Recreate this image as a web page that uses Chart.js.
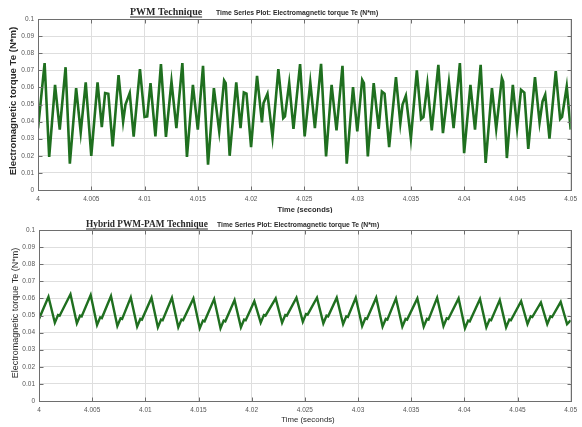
<!DOCTYPE html>
<html>
<head>
<meta charset="utf-8">
<script src="https://cdn.jsdelivr.net/npm/chart.js@4.4.1/dist/chart.umd.min.js"></script>
<style>
    html, body { margin: 0; padding: 0; background: #fff; }
    .wrap { position: relative; width: 582px; height: 427px; }
    .panel { position: absolute; left: 0; width: 582px; }
</style>
</head>
<body>
<div class="wrap">
    <div class="panel" style="top:0;height:213px"><canvas id="pwm-chart"></canvas></div>
    <div class="panel" style="top:213px;height:214px"><canvas id="hybrid-chart"></canvas></div>
</div>
<script>
// axis ticks (shared by both plots)
const timeTicks = [4, 4.005, 4.01, 4.015, 4.02, 4.025, 4.03, 4.035, 4.04, 4.045, 4.05];
const timeTickLabels = ['4', '4.005', '4.01', '4.015', '4.02', '4.025', '4.03', '4.035', '4.04', '4.045', '4.05'];
const torqueTicks = [0, 0.01, 0.02, 0.03, 0.04, 0.05, 0.06, 0.07, 0.08, 0.09, 0.1];
const torqueTickLabels = ['0', '0.01', '0.02', '0.03', '0.04', '0.05', '0.06', '0.07', '0.08', '0.09', '0.1'];

// PWM technique - Te (N*m)
const pwmTime = [
    4.00000, 4.00062, 4.00105, 4.00160, 4.00204, 4.00259, 4.00299, 4.00358, 4.00401, 4.00448,
    4.00500, 4.00559, 4.00599, 4.00630, 4.00660, 4.00701, 4.00756, 4.00799, 4.00821, 4.00861,
    4.00898, 4.00957, 4.01000, 4.01025, 4.01056, 4.01102, 4.01154, 4.01201, 4.01253, 4.01299,
    4.01355, 4.01398, 4.01454, 4.01500, 4.01549, 4.01596, 4.01651,
    4.01701, 4.01747, 4.01762, 4.01799, 4.01861, 4.01901, 4.01932, 4.01957, 4.02000, 4.02056,
    4.02102, 4.02117, 4.02154, 4.02201, 4.02256, 4.02302, 4.02318, 4.02358, 4.02398, 4.02460,
    4.02503, 4.02556, 4.02599, 4.02657, 4.02704, 4.02756, 4.02802, 4.02858, 4.02898, 4.02957,
    4.02997, 4.03043, 4.03059, 4.03096, 4.03151, 4.03198, 4.03228, 4.03253, 4.03296,
    4.03360, 4.03401, 4.03422, 4.03453, 4.03500, 4.03556, 4.03596, 4.03618, 4.03655, 4.03696,
    4.03758, 4.03801, 4.03857, 4.03901, 4.03960, 4.04000, 4.04059, 4.04102, 4.04155, 4.04202,
    4.04261, 4.04301, 4.04354, 4.04366, 4.04401, 4.04457, 4.04497, 4.04534, 4.04565, 4.04602,
    4.04665, 4.04708, 4.04736, 4.04761, 4.04801, 4.04860, 4.04901, 4.04919, 4.04963, 4.05000
];
const pwmTorque = [
    0.0360, 0.0742, 0.0193, 0.0615, 0.0353, 0.0718, 0.0154, 0.0596, 0.0337, 0.0630,
    0.0200, 0.0630, 0.0368, 0.0567, 0.0563, 0.0255, 0.0672, 0.0400, 0.0500, 0.0567,
    0.0312, 0.0707, 0.0427, 0.0430, 0.0625, 0.0313, 0.0736, 0.0310, 0.0634, 0.0362,
    0.0742, 0.0193, 0.0615, 0.0353, 0.0726, 0.0148, 0.0596,
    0.0343, 0.0640, 0.0625, 0.0200, 0.0629, 0.0362, 0.0570, 0.0563, 0.0251, 0.0668,
    0.0395, 0.0508, 0.0563, 0.0310, 0.0707, 0.0420, 0.0430, 0.0625, 0.0357, 0.0736,
    0.0313, 0.0629, 0.0362, 0.0738, 0.0197, 0.0615, 0.0349, 0.0726, 0.0154, 0.0601,
    0.0343, 0.0644, 0.0625, 0.0197, 0.0625, 0.0357, 0.0576, 0.0563, 0.0251,
    0.0660, 0.0390, 0.0499, 0.0551, 0.0300, 0.0700, 0.0415, 0.0427, 0.0620, 0.0349,
    0.0732, 0.0333, 0.0629, 0.0362, 0.0742, 0.0216, 0.0615, 0.0353, 0.0732, 0.0158,
    0.0596, 0.0357, 0.0654, 0.0635, 0.0187, 0.0615, 0.0362, 0.0586, 0.0570, 0.0240,
    0.0660, 0.0395, 0.0518, 0.0557, 0.0300, 0.0695, 0.0415, 0.0427, 0.0605, 0.0353
];

// Hybrid PWM-PAM technique - Te (N*m) (peak, trough, bump, notch per cycle)
const hybridTime = [
    4.00000,
    4.00089, 4.00149, 4.00179, 4.00194,
    4.00296, 4.00356, 4.00386, 4.00401,
    4.00486, 4.00546, 4.00576, 4.00591,
    4.00677, 4.00737, 4.00767, 4.00782,
    4.00863, 4.00923, 4.00953, 4.00968,
    4.01058, 4.01118, 4.01148, 4.01163,
    4.01250, 4.01310, 4.01340, 4.01355,
    4.01452, 4.01512, 4.01542, 4.01557,
    4.01647, 4.01707, 4.01737, 4.01752,
    4.01839, 4.01899, 4.01929, 4.01944,
    4.02025, 4.02085, 4.02115, 4.02130,
    4.02226, 4.02286, 4.02316, 4.02331,
    4.02421, 4.02481, 4.02511, 4.02526,
    4.02614, 4.02674, 4.02704, 4.02719,
    4.02800, 4.02860, 4.02890, 4.02905,
    4.02979, 4.03039, 4.03069, 4.03084,
    4.03171, 4.03231, 4.03261, 4.03276,
    4.03357, 4.03417, 4.03447, 4.03462,
    4.03558, 4.03618, 4.03648, 4.03663,
    4.03744, 4.03804, 4.03834, 4.03849,
    4.03946, 4.04006, 4.04036, 4.04051,
    4.04147, 4.04207, 4.04237, 4.04252,
    4.04333, 4.04393, 4.04423, 4.04438,
    4.04534, 4.04594, 4.04624, 4.04639,
    4.04720, 4.04780, 4.04810, 4.04825,
    4.04906, 4.04966, 4.05000
];
const hybridTorque = [
    0.0480,
    0.0610, 0.0458, 0.0503, 0.0499,
    0.0624, 0.0454, 0.0499, 0.0495,
    0.0620, 0.0444, 0.0489, 0.0485,
    0.0614, 0.0439, 0.0484, 0.0480,
    0.0606, 0.0435, 0.0480, 0.0476,
    0.0604, 0.0431, 0.0476, 0.0472,
    0.0604, 0.0431, 0.0476, 0.0472,
    0.0600, 0.0425, 0.0470, 0.0466,
    0.0596, 0.0425, 0.0470, 0.0466,
    0.0590, 0.0431, 0.0476, 0.0472,
    0.0584, 0.0458, 0.0503, 0.0499,
    0.0600, 0.0458, 0.0503, 0.0499,
    0.0604, 0.0464, 0.0509, 0.0505,
    0.0604, 0.0454, 0.0499, 0.0495,
    0.0604, 0.0450, 0.0495, 0.0491,
    0.0604, 0.0439, 0.0484, 0.0480,
    0.0604, 0.0435, 0.0480, 0.0476,
    0.0600, 0.0435, 0.0480, 0.0476,
    0.0600, 0.0435, 0.0480, 0.0476,
    0.0604, 0.0439, 0.0484, 0.0480,
    0.0600, 0.0425, 0.0470, 0.0466,
    0.0596, 0.0431, 0.0476, 0.0472,
    0.0590, 0.0431, 0.0476, 0.0472,
    0.0584, 0.0450, 0.0495, 0.0491,
    0.0576, 0.0450, 0.0495, 0.0491,
    0.0580, 0.0450, 0.0472
];

const yTitle = 'Electromagnetic torque Te (N*m)';
const plotTitle = 'Time Series Plot: Electromagnetic torque Te (N*m)';

// frame, inward ticks and the texts MATLAB puts around the axes
const decor = {
    id: 'decor',
    afterDraw(chart, args, o) {
        const {ctx, chartArea: a} = chart;
        const xs = chart.scales.x, ys = chart.scales.y;
        ctx.save();
        ctx.strokeStyle = '#6e6e6e';
        ctx.lineWidth = 1;
        const l = Math.round(a.left) + 0.5, t = Math.round(a.top) + 0.5;
        const r = Math.round(a.right) + 0.5, b = Math.round(a.bottom) + 0.5;
        ctx.strokeRect(l, t, r - l, b - t);
        ctx.beginPath();
        timeTicks.forEach(v => {
            const px = Math.round(xs.getPixelForValue(v)) + 0.5;
            ctx.moveTo(px, b); ctx.lineTo(px, b - 4);
            ctx.moveTo(px, t); ctx.lineTo(px, t + 4);
        });
        torqueTicks.forEach(v => {
            const py = Math.round(ys.getPixelForValue(v)) + 0.5;
            ctx.moveTo(l, py); ctx.lineTo(l + 4, py);
            ctx.moveTo(r, py); ctx.lineTo(r - 4, py);
        });
        ctx.stroke();

        ctx.fillStyle = '#2a2a2a';
        ctx.textBaseline = 'alphabetic';
        ctx.textAlign = 'left';
        ctx.font = o.techFont;
        ctx.fillText(o.technique, o.techX, o.titleY);
        const w = ctx.measureText(o.technique).width;
        ctx.fillRect(o.techX, o.titleY + 1.5, w, 1);
        ctx.font = o.plotFont;
        ctx.fillText(plotTitle, o.plotX, o.titleY);

        ctx.textAlign = 'center';
        ctx.font = o.xFont;
        ctx.fillText('Time (seconds)', o.xTitleX, o.xTitleY);

        ctx.translate(o.yTitleX, o.yTitleY);
        ctx.rotate(-Math.PI / 2);
        ctx.textBaseline = 'middle';
        ctx.font = o.yFont;
        ctx.fillText(yTitle, 0, 0);
        ctx.restore();
    }
};

function makeChart(canvasId, time, torque, cfg) {
    const points = time.map((t, i) => ({x: t, y: torque[i]}));
    const ctx = document.getElementById(canvasId).getContext('2d');
    return new Chart(ctx, {
        type: 'line',
        data: {
            datasets: [{
                data: points,
                borderColor: '#1f6f1f',
                borderWidth: cfg.lineWidth,
                pointRadius: 0,
                tension: 0,
                fill: false
            }]
        },
        options: {
            responsive: true,
            maintainAspectRatio: false,
            animation: false,
            layout: {
                autoPadding: false,
                padding: {left: 0, right: 5, top: cfg.top, bottom: 0}
            },
            plugins: {
                legend: {display: false},
                tooltip: {enabled: false},
                decor: cfg.decor
            },
            scales: {
                x: {
                    type: 'linear',
                    min: 4,
                    max: 4.05,
                    afterBuildTicks: s => { s.ticks = timeTicks.map(v => ({value: v})); },
                    afterFit: s => { s.height = cfg.xHeight; },
                    border: {display: false},
                    grid: {color: '#dedede', drawTicks: false},
                    ticks: {
                        autoSkip: false,
                        maxRotation: 0,
                        padding: 5,
                        color: '#555',
                        font: {family: 'Liberation Sans', size: 6.5},
                        callback: (v, i) => timeTickLabels[i]
                    }
                },
                y: {
                    min: 0,
                    max: 0.1,
                    afterBuildTicks: s => { s.ticks = torqueTicks.map(v => ({value: v})); },
                    afterFit: s => { s.width = cfg.yWidth; },
                    border: {display: false},
                    grid: {color: '#dedede', drawTicks: false},
                    ticks: {
                        padding: 4,
                        color: '#555',
                        font: {family: 'Liberation Sans', size: 6.5},
                        callback: (v, i) => torqueTickLabels[i]
                    }
                }
            }
        },
        plugins: [decor]
    });
}

makeChart('pwm-chart', pwmTime, pwmTorque, {
    top: 19, xHeight: 23, yWidth: 38, lineWidth: 2.6,
    decor: {
        technique: 'PWM Technique', techX: 130, titleY: 15,
        techFont: 'bold 10px "Liberation Serif"', plotFont: 'bold 6.8px "Liberation Sans"', plotX: 216,
        xFont: 'bold 7.5px "Liberation Sans"', xTitleX: 305, xTitleY: 212,
        yFont: 'bold 9.6px "Liberation Sans"', yTitleX: 13, yTitleY: 101
    }
});

makeChart('hybrid-chart', hybridTime, hybridTorque, {
    top: 17, xHeight: 26, yWidth: 39, lineWidth: 2.4,
    decor: {
        technique: 'Hybrid PWM-PAM Technique', techX: 86, titleY: 14,
        techFont: 'bold 9.3px "Liberation Serif"', plotFont: 'bold 6.8px "Liberation Sans"', plotX: 217,
        xFont: '7.8px "Liberation Sans"', xTitleX: 308, xTitleY: 209,
        yFont: '9px "Liberation Sans"', yTitleX: 16, yTitleY: 100
    }
});
</script>
</body>
</html>
